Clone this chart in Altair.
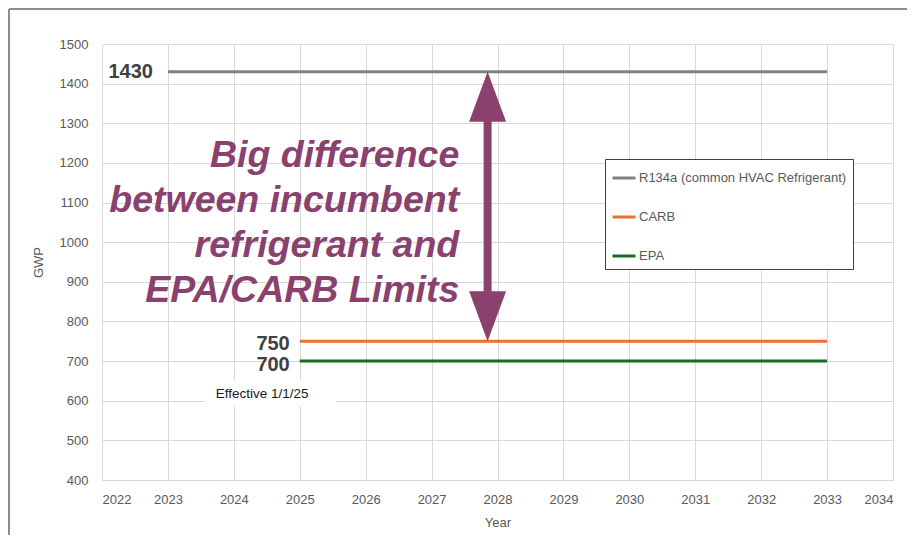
import altair as alt
import pandas as pd

# ---- data ----
series_names = ["R134a (common HVAC Refrigerant)", "CARB", "EPA"]
series_colors = ["#808080", "#E97132", "#196B24"]
start_years = [2023, 2025, 2025]
end_years = [2033, 2033, 2033]
gwp_values = [1430, 750, 700]

value_labels = ["1430", "750", "700"]

x_ticks = list(range(2022, 2035))
y_ticks = list(range(400, 1501, 100))

headline_lines = ["Big difference", "between incumbent", "refrigerant and", "EPA/CARB Limits"]
headline_pos = [2027.42, 1217]          # x (year) of right edge, y (GWP) of first line
arrow_x = [2027.85]
arrow_top = [1430]
arrow_bottom = [750]
effective_text = "Effective 1/1/25"
effective_pos = [2024.43, 616]
effective_box = [2023.56, 2025.55, 586, 651]

purple = "#8A416E"

rows = []
for n, s, e, v in zip(series_names, start_years, end_years, gwp_values):
    rows.append({"series": n, "year": s, "gwp": v})
    rows.append({"series": n, "year": e, "gwp": v})
lines_df = pd.DataFrame(rows)

labels_df = pd.DataFrame({
    "series": series_names, "year": start_years, "gwp": gwp_values, "label": value_labels,
})

x_scale = alt.Scale(domain=[2022, 2034], nice=False, zero=False)
y_scale = alt.Scale(domain=[400, 1500], nice=False, zero=False)
x_axis = alt.Axis(values=x_ticks, format="d", title="Year")
y_axis = alt.Axis(values=y_ticks, format="d", title="GWP")


def X(field):
    return alt.X(field, type="quantitative", scale=x_scale, axis=x_axis)


def Y(field):
    return alt.Y(field, type="quantitative", scale=y_scale, axis=y_axis)


lines = alt.Chart(lines_df).mark_line(strokeWidth=3).encode(
    x=X("year"), y=Y("gwp"),
    color=alt.Color("series:N",
                    scale=alt.Scale(domain=series_names, range=series_colors),
                    sort=series_names,
                    legend=alt.Legend(title=None, orient="none", legendX=503, legendY=115)),
)


def value_label(lbl, dx, dy):
    return alt.Chart(labels_df[labels_df["label"] == lbl]).mark_text(
        align="right", baseline="middle", dx=dx, dy=dy, fontSize=20, fontWeight="bold",
        color="#404040", font="Liberation Sans").encode(x=X("year"), y=Y("gwp"), text="label:N")


lab1430 = value_label("1430", -15, 0)
lab750 = value_label("750", -10, 3)
lab700 = value_label("700", -10, 4)

eff_box_df = pd.DataFrame({"x1": [effective_box[0]], "x2": [effective_box[1]],
                           "y1": [effective_box[2]], "y2": [effective_box[3]]})
eff_box = alt.Chart(eff_box_df).mark_rect(color="white").encode(
    x=X("x1"), x2="x2:Q", y=Y("y1"), y2="y2:Q")
eff_df = pd.DataFrame({"x": [effective_pos[0]], "y": [effective_pos[1]], "t": [effective_text]})
eff_text = alt.Chart(eff_df).mark_text(
    align="center", baseline="middle", fontSize=13.5, color="#1a1a1a",
    font="Liberation Sans").encode(x=X("x"), y=Y("y"), text="t:N")

head_df = pd.DataFrame({"x": [headline_pos[0]], "y": [headline_pos[1]]})
headline = alt.Chart(head_df).mark_text(
    text=headline_lines, align="right", baseline="middle", fontSize=37.5, lineHeight=45,
    fontWeight="bold", fontStyle="italic", color=purple, font="Liberation Sans",
).encode(x=X("x"), y=Y("y"))

arrow_df = pd.DataFrame({"x": arrow_x, "top": arrow_top, "bottom": arrow_bottom})
shaft = alt.Chart(arrow_df).transform_calculate(
    t="datum.top - 110", b="datum.bottom + 110").mark_rule(
    color=purple, strokeWidth=8).encode(x=X("x"), y=Y("t"), y2="b:Q")
head_up = alt.Chart(arrow_df).mark_point(
    shape="M0,0L0.74,2L-0.74,2Z", size=2500, filled=True, color=purple, opacity=1,
    strokeWidth=0).encode(x=X("x"), y=Y("top"))
head_down = alt.Chart(arrow_df).mark_point(
    shape="M0,0L0.74,-2L-0.74,-2Z", size=2500, filled=True, color=purple, opacity=1,
    strokeWidth=0).encode(x=X("x"), y=Y("bottom"))

# outer frame (top and left edge of the screenshot border)
frame_top = alt.Chart(head_df).mark_rule(color="#8c8c8c", strokeWidth=2).encode(
    x=alt.value(-93), x2=alt.value(830), y=alt.value(-35))
frame_left = alt.Chart(head_df).mark_rule(color="#8c8c8c", strokeWidth=2).encode(
    x=alt.value(-93), y=alt.value(-35), y2=alt.value(560))

chart = alt.layer(
    frame_top, frame_left,
    eff_box, lines, lab1430, lab750, lab700, eff_text, headline, shaft, head_up, head_down,
).properties(
    width=791, height=436,
    autosize=alt.AutoSizeParams(type="none"),
    padding={"left": 94, "top": 36, "right": 14, "bottom": 55},
).configure_view(stroke=None).configure_axis(
    grid=True, gridColor="#d9d9d9", gridWidth=1, ticks=False, labelOverlap=False,
    labelFont="Liberation Sans", labelFontSize=13, labelColor="#595959",
    titleFont="Liberation Sans", titleFontSize=13, titleColor="#595959", titleFontWeight="normal",
    domainColor="#d9d9d9",
).configure_axisY(domain=False, labelPadding=14, titlePadding=14).configure_axisX(
    labelPadding=13, titlePadding=10,
).configure_legend(
    fillColor="white", strokeColor="#404040", strokeWidth=1, padding=6, rowPadding=19,
    symbolType="stroke", symbolSize=529, symbolStrokeWidth=3, labelFontSize=13,
    labelColor="#595959", labelFont="Liberation Sans", labelOffset=2, labelLimit=320,
)

chart.save("out.html", embed_options={"renderer": "svg", "actions": False})
